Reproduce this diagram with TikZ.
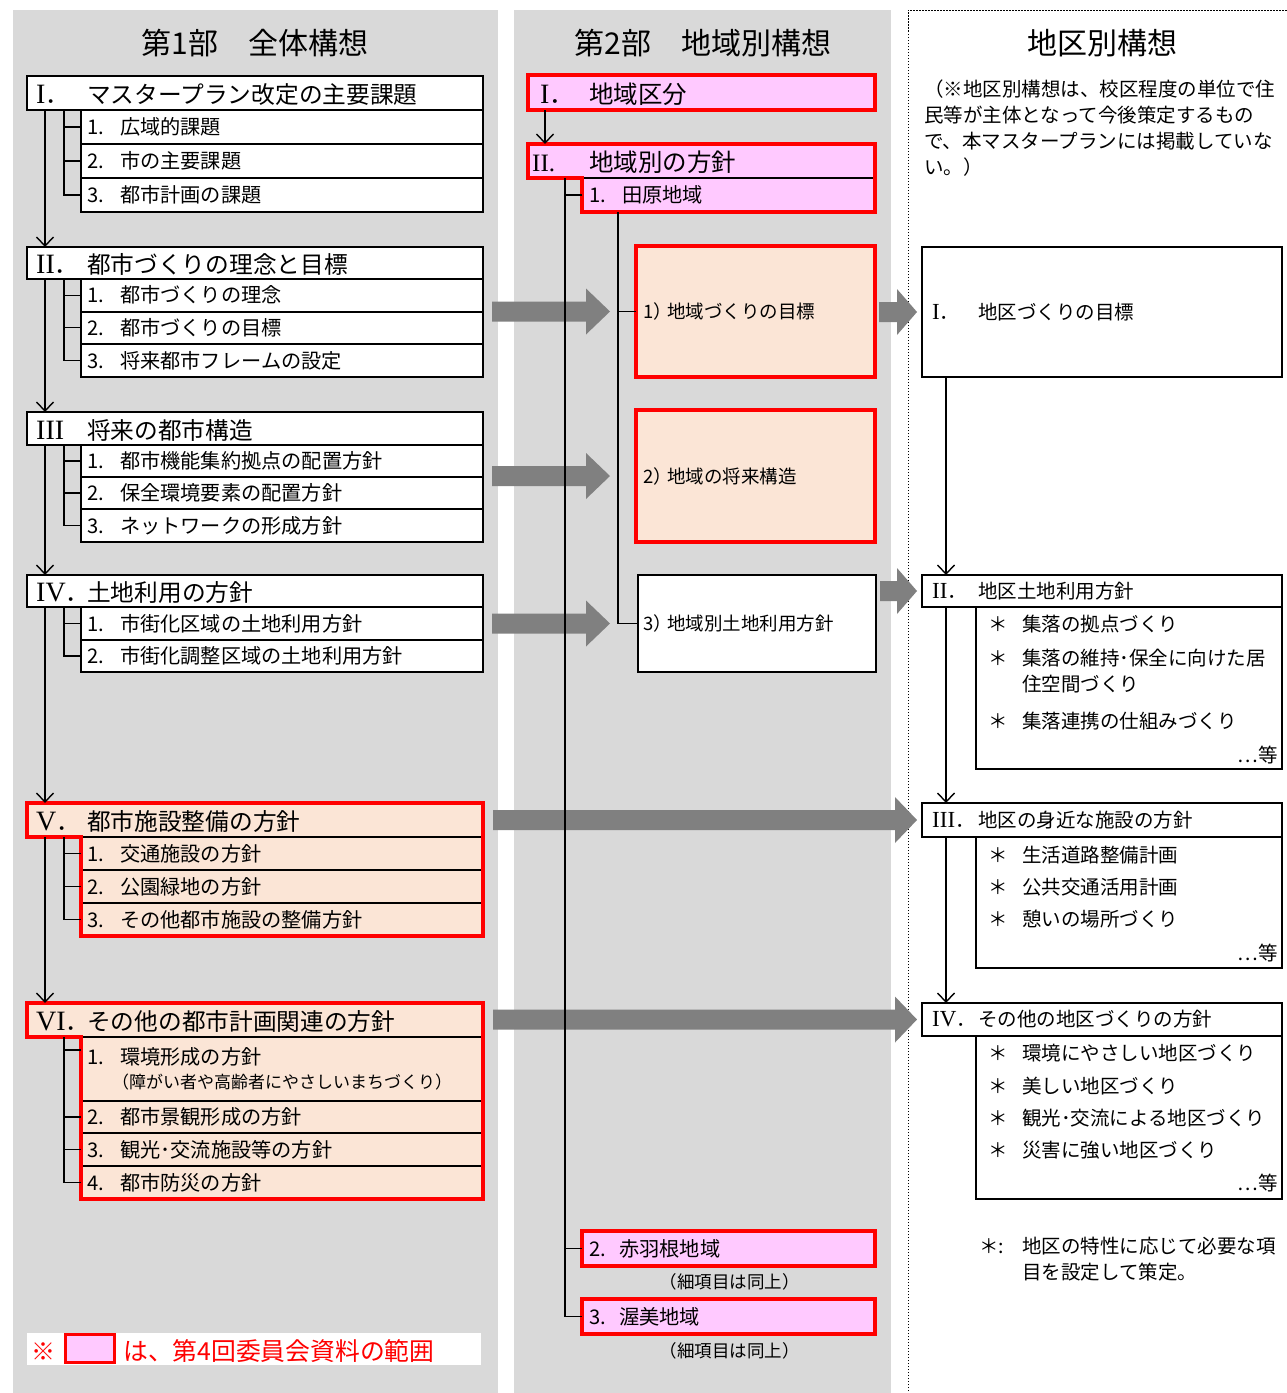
\documentclass[tikz,border=0pt]{standalone}
\usepackage{fontspec}
\setmainfont{Noto Sans CJK JP}
\newfontfamily\romfont{Liberation Serif}
\usetikzlibrary{arrows.meta,calc}
\definecolor{panel}{HTML}{D9D9D9}
\definecolor{peach}{HTML}{FBE5D6}
\definecolor{pinkf}{HTML}{FFC9FF}
\definecolor{fatgray}{HTML}{808080}
\definecolor{redl}{HTML}{FF0000}
\newcommand\rn[2]{{\romfont\fontsize{#1}{#1}\selectfont #2}}
% fat grey block arrow: start point, end point, start shift, end gap, head length
\newcommand\fatarr[5]{\fill[fatgray] let \p1=#1, \p2=#2 in
  (\x1+#3,\y2+10pt) -- (\x2-#4-#5,\y2+10pt) -- (\x2-#4-#5,\y2+23pt) -- (\x2-#4,\y2)
  -- (\x2-#4-#5,\y2-23pt) -- (\x2-#4-#5,\y2-10pt) -- (\x1+#3,\y2-10pt) -- cycle;}
% header row of part 1: name, y, height, fill, number, text
\newcommand\hdrrow[6]{%
  \node[box,fill=#4,minimum width=456pt,minimum height=#3pt] (#1) at (27,#2) {};
  \node[thead] (#1t) at ([xshift=9pt,yshift=-1.5pt]#1.west) {\makebox[51pt][l]{#5}#6};}
% sub row of part 1: name, y, height, fill, number, text
\newcommand\subrow[6]{%
  \node[box,fill=#4,minimum width=402pt,minimum height=#3pt] (#1) at (81,#2) {};
  \node[tsub] (#1t) at ([xshift=6pt]#1.west) {\makebox[33pt][l]{#5}#6};}
\begin{document}
\begin{tikzpicture}[x=1pt,y=-1pt,
  box/.style={draw=black,line width=2pt,fill=white,anchor=north west,inner sep=0pt,outer sep=0pt},
  thead/.style={anchor=west,inner sep=0pt,font=\fontsize{23.7pt}{26pt}\selectfont},
  tsub/.style={anchor=west,inner sep=0pt,font=\fontsize{20.2pt}{22pt}\selectfont},
  tdist/.style={anchor=west,inner sep=0pt,font=\fontsize{19.5pt}{22pt}\selectfont},
  tsmall/.style={anchor=west,inner sep=0pt,font=\fontsize{18.5pt}{22pt}\selectfont},
  ttitle/.style={inner sep=0pt,font=\fontsize{30pt}{32pt}\selectfont},
  ln/.style={draw=black,line width=1.4pt},
  arr/.style={draw=black,line width=1.4pt,-{Straight Barb[length=9pt,width=17pt]}},
  redbox/.style={draw=redl,line width=4pt,line join=miter}]
\useasboundingbox (0,0) rectangle (1287,1393);
\fill[white] (0,0) rectangle (1287,1393);
% panels
\fill[panel] (13,10) rectangle (498,1393);
\fill[panel] (514,10) rectangle (891,1393);
\draw[black,line width=1pt,dash pattern=on 1.5pt off 1.5pt] (908,1400) -- (908,10) -- (1295,10);

% titles
\node[ttitle] (T1) at (255,43) {第1部　全体構想};
\node[ttitle] (T2) at (703,43) {第2部　地域別構想};
\node[ttitle] (T3) at (1102,43) {地区別構想};

% ---------- Part 1 ----------
\hdrrow{Ih}{76}{34}{white}{\rn{28pt}{I}．}{マスタープラン改定の主要課題}
\subrow{I1}{110}{34}{white}{1.}{広域的課題}
\subrow{I2}{144}{34}{white}{2.}{市の主要課題}
\subrow{I3}{178}{34}{white}{3.}{都市計画の課題}

\hdrrow{IIh}{247}{32}{white}{\rn{28pt}{II}．}{都市づくりの理念と目標}
\subrow{II1}{279}{32.5}{white}{1.}{都市づくりの理念}
\subrow{II2}{311.5}{32.5}{white}{2.}{都市づくりの目標}
\subrow{II3}{344}{33}{white}{3.}{将来都市フレームの設定}

\hdrrow{IIIh}{412}{33}{white}{\rn{28pt}{III}}{将来の都市構造}
\subrow{III1}{445}{32}{white}{1.}{都市機能集約拠点の配置方針}
\subrow{III2}{477}{32}{white}{2.}{保全環境要素の配置方針}
\subrow{III3}{509}{33}{white}{3.}{ネットワークの形成方針}

\hdrrow{IVh}{575}{32}{white}{\rn{28pt}{IV}．}{土地利用の方針}
\subrow{IV1}{607}{33}{white}{1.}{市街化区域の土地利用方針}
\subrow{IV2}{640}{32}{white}{2.}{市街化調整区域の土地利用方針}

\hdrrow{Vh}{803}{34}{peach}{\rn{28pt}{V}．}{都市施設整備の方針}
\subrow{V1}{837}{33}{peach}{1.}{交通施設の方針}
\subrow{V2}{870}{33}{peach}{2.}{公園緑地の方針}
\subrow{V3}{903}{33}{peach}{3.}{その他都市施設の整備方針}
\draw[redbox] (Vh.north west) -- (Vh.north east) -- (V3.south east) -- (V3.south west)
  -- (V1.north west) -- (Vh.south west) -- cycle;

\hdrrow{VIh}{1003}{34}{peach}{\rn{28pt}{VI}．}{その他の都市計画関連の方針}
\node[box,fill=peach,minimum width=402pt,minimum height=64pt] (VI1) at (81,1037) {};
\node[tsub] (VI1t) at (87,1057) {\makebox[33pt][l]{1.}環境形成の方針};
\node[anchor=west,inner sep=0pt,font=\fontsize{17pt}{20pt}\selectfont] (VI1u) at (112,1082) {（障がい者や高齢者にやさしいまちづくり）};
\subrow{VI2}{1101}{32}{peach}{2.}{都市景観形成の方針}
\subrow{VI3}{1133}{33}{peach}{3.}{観光･交流施設等の方針}
\subrow{VI4}{1166}{33}{peach}{4.}{都市防災の方針}
\draw[redbox] (VIh.north west) -- (VIh.north east) -- (VI4.south east) -- (VI4.south west)
  -- (VI1.north west) -- (VIh.south west) -- cycle;

% legend
\node[fill=white,anchor=north west,inner sep=0pt,minimum width=454pt,minimum height=32pt] (leg) at (27,1333) {};
\node[inner sep=0pt,text=redl,font=\fontsize{24pt}{26pt}\selectfont] (legm) at (43,1352) {※};
\node[box,fill=pinkf,draw=redl,line width=3pt,minimum width=49pt,minimum height=28pt] (legsq) at (65,1334) {};
\node[anchor=west,inner sep=0pt,text=redl,font=\fontsize{24.8pt}{26pt}\selectfont] (legt) at (123,1351) {は、第4回委員会資料の範囲};

% ---------- Part 2 ----------
\node[box,fill=pinkf,draw=redl,line width=4pt,minimum width=347pt,minimum height=35pt] (cI) at (528,75) {};
\node[thead,font=\fontsize{24.5pt}{26pt}\selectfont] (cIt) at ([xshift=12pt,yshift=-1.5pt]cI.west) {\makebox[49pt][l]{\rn{28pt}{I}．}地域区分};
\node[box,fill=pinkf,draw=none,minimum width=347pt,minimum height=34pt] (cII) at (528,144) {};
\node[box,fill=pinkf,minimum width=293pt,minimum height=34pt] (cII1) at (582,178) {};
\node[thead,font=\fontsize{24.5pt}{26pt}\selectfont] (cIIt) at ([xshift=4pt,yshift=-1.5pt]cII.west) {\makebox[57pt][l]{\rn{25pt}{II.}}地域別の方針};
\node[tsub] (cII1t) at ([xshift=7pt]cII1.west) {\makebox[33pt][l]{1.}田原地域};
\draw[redbox] (cII.north west) -- (cII.north east) -- (cII1.south east) -- (cII1.south west)
  -- (cII1.north west) -- (cII.south west) -- cycle;

\node[box,fill=peach,draw=redl,line width=4pt,minimum width=239pt,minimum height=131pt] (g1) at (636,246) {};
\node[tsmall] (g1t) at ([xshift=7pt]g1.west) {\makebox[24pt][l]{1）}地域づくりの目標};
\node[box,fill=peach,draw=redl,line width=4pt,minimum width=239pt,minimum height=132pt] (g2) at (636,410) {};
\node[tsmall] (g2t) at ([xshift=7pt]g2.west) {\makebox[24pt][l]{2）}地域の将来構造};
\node[box,fill=white,minimum width=238pt,minimum height=97pt] (g3) at (638,575) {};
\node[tsmall] (g3t) at ([xshift=5pt]g3.west) {\makebox[24pt][l]{3）}地域別土地利用方針};

\node[box,fill=pinkf,draw=redl,line width=4pt,minimum width=293pt,minimum height=35pt] (c2) at (582,1231) {};
\node[tsub] (c2t) at ([xshift=7pt]c2.west) {\makebox[30pt][l]{2.}赤羽根地域};
\node[inner sep=0pt,font=\fontsize{17.5pt}{18pt}\selectfont] (c2n) at ([yshift=-16pt,xshift=1pt]c2.south) {（細項目は同上）};
\node[box,fill=pinkf,draw=redl,line width=4pt,minimum width=293pt,minimum height=35pt] (c3) at (582,1299) {};
\node[tsub] (c3t) at ([xshift=7pt]c3.west) {\makebox[30pt][l]{3.}渥美地域};
\node[inner sep=0pt,font=\fontsize{17.5pt}{18pt}\selectfont] (c3n) at ([yshift=-17pt,xshift=1pt]c3.south) {（細項目は同上）};

% ---------- District column ----------
\node[anchor=north west,align=left,inner sep=0pt,font=\fontsize{19.5pt}{26pt}\selectfont] (note) at (924,80)
  {（※地区別構想は、校区程度の単位で住\\民等が主体となって今後策定するもの\\で、本マスタープランには掲載していな\\い。）};

\node[box,minimum width=360pt,minimum height=130pt] (dI) at (922,247) {};
\node[tdist] (dIt) at ([xshift=10pt]dI.west) {\makebox[46pt][l]{\rn{23pt}{I}．}地区づくりの目標};

\node[box,minimum width=306pt,minimum height=162pt] (dIIb) at (976,607) {};
\node[box,minimum width=360pt,minimum height=32pt] (dII) at (922,575) {};
\node[tdist] (dIIt) at ([xshift=10pt]dII.west) {\makebox[46pt][l]{\rn{23pt}{II}．}地区土地利用方針};
\node[tdist] (dIIa) at (988,624) {\makebox[34pt][l]{＊}集落の拠点づくり};
\node[tdist] (dIIc) at (988,658) {\makebox[34pt][l]{＊}集落の維持･保全に向けた居};
\node[tdist] (dIId) at (1022,684) {住空間づくり};
\node[tdist] (dIIe) at (988,721) {\makebox[34pt][l]{＊}集落連携の仕組みづくり};
\node[tdist,anchor=east] (dIIf) at (1278,755) {…等};

\node[box,minimum width=306pt,minimum height=131pt] (dIIIb) at (976,837) {};
\node[box,minimum width=360pt,minimum height=34pt] (dIII) at (922,803) {};
\node[tdist] (dIIIt) at ([xshift=10pt]dIII.west) {\makebox[46pt][l]{\rn{23pt}{III}．}地区の身近な施設の方針};
\node[tdist] (dIIIa) at (988,855) {\makebox[34pt][l]{＊}生活道路整備計画};
\node[tdist] (dIIIc) at (988,887) {\makebox[34pt][l]{＊}公共交通活用計画};
\node[tdist] (dIIId) at (988,919) {\makebox[34pt][l]{＊}憩いの場所づくり};
\node[tdist,anchor=east] (dIIIf) at (1278,953) {…等};

\node[box,minimum width=306pt,minimum height=163pt] (dIVb) at (976,1036) {};
\node[box,minimum width=360pt,minimum height=33pt] (dIV) at (922,1003) {};
\node[tdist] (dIVt) at ([xshift=10pt]dIV.west) {\makebox[46pt][l]{\rn{23pt}{IV}．}その他の地区づくりの方針};
\node[tdist] (dIVa) at (988,1053) {\makebox[34pt][l]{＊}環境にやさしい地区づくり};
\node[tdist] (dIVc) at (988,1086) {\makebox[34pt][l]{＊}美しい地区づくり};
\node[tdist] (dIVd) at (988,1118) {\makebox[34pt][l]{＊}観光･交流による地区づくり};
\node[tdist] (dIVe) at (988,1150) {\makebox[34pt][l]{＊}災害に強い地区づくり};
\node[tdist,anchor=east] (dIVf) at (1278,1183) {…等};

\node[tdist] (fn1) at (979,1246) {\makebox[43pt][l]{＊:}地区の特性に応じて必要な項};
\node[tdist] (fn2) at (1022,1272) {目を設定して策定。};

% ---------- fat arrows ----------
\coordinate (fa1) at (IIh.east |- g1.west);
\coordinate (fa2) at (IIIh.east |- g2.west);
\coordinate (fa3) at (IVh.east |- g3.west);
\coordinate (fa5) at (g3.east |- dII.west);
\fatarr{(fa1)}{(g1.west)}{9pt}{26pt}{24pt}
\fatarr{(fa2)}{(g2.west)}{9pt}{26pt}{24pt}
\fatarr{(fa3)}{(g3.west)}{9pt}{28pt}{24pt}
\fatarr{(g1.east)}{(dI.west)}{4pt}{5pt}{20pt}
\fatarr{(fa5)}{(dII.west)}{4pt}{5pt}{20pt}
\fatarr{(Vh.east)}{(dIII.west)}{10pt}{5pt}{22pt}
\fatarr{(VIh.east)}{(dIV.west)}{10pt}{5pt}{22pt}

% ---------- connectors, part 1 ----------
\draw[arr] ([xshift=18pt]Ih.south west) -- ([xshift=18pt]IIh.north west);
\draw[arr] ([xshift=18pt]IIh.south west) -- ([xshift=18pt]IIIh.north west);
\draw[arr] ([xshift=18pt]IIIh.south west) -- ([xshift=18pt]IVh.north west);
\draw[arr] ([xshift=18pt]IVh.south west) -- ([xshift=18pt]Vh.north west);
\draw[arr] ([xshift=18pt]Vh.south west) -- ([xshift=18pt]VIh.north west);

\coordinate (tI) at ([xshift=37pt]Ih.south west);
\draw[ln] (tI) |- (I3.west);
\draw[ln] (tI |- I1.west) -- (I1.west);
\draw[ln] (tI |- I2.west) -- (I2.west);
\coordinate (tII) at ([xshift=37pt]IIh.south west);
\draw[ln] (tII) |- (II3.west);
\draw[ln] (tII |- II1.west) -- (II1.west);
\draw[ln] (tII |- II2.west) -- (II2.west);
\coordinate (tIII) at ([xshift=37pt]IIIh.south west);
\draw[ln] (tIII) |- (III3.west);
\draw[ln] (tIII |- III1.west) -- (III1.west);
\draw[ln] (tIII |- III2.west) -- (III2.west);
\coordinate (tIV) at ([xshift=37pt]IVh.south west);
\draw[ln] (tIV) |- (IV2.west);
\draw[ln] (tIV |- IV1.west) -- (IV1.west);
\coordinate (tV) at ([xshift=37pt]Vh.south west);
\draw[ln] (tV) |- (V3.west);
\draw[ln] (tV |- V1.west) -- (V1.west);
\draw[ln] (tV |- V2.west) -- (V2.west);
\coordinate (tVI) at ([xshift=37pt]VIh.south west);
\coordinate (tVIa) at ([yshift=-13pt]VI1.north west);
\draw[ln] (tVI) |- (VI4.west);
\draw[ln] (tVI |- tVIa) -- (tVIa);
\draw[ln] (tVI |- VI2.west) -- (VI2.west);
\draw[ln] (tVI |- VI3.west) -- (VI3.west);

% ---------- connectors, part 2 ----------
\draw[arr] ([xshift=17pt]cI.south west) -- ([xshift=17pt]cII.north west);
\coordinate (trk) at ([xshift=37pt]cII.south west);
\draw[ln] (trk) |- (c3.west);
\draw[ln] (trk |- cII1.west) -- (cII1.west);
\draw[ln] (trk |- c2.west) -- (c2.west);
\coordinate (trk2) at ([xshift=36pt]cII1.south west);
\draw[ln] (trk2) |- (g3.west);
\draw[ln] (trk2 |- g1.west) -- (g1.west);

% ---------- connectors, district column ----------
\coordinate (td) at ([xshift=24pt]dI.south west);
\draw[arr] (td) -- (td |- dII.north);
\draw[arr] (td |- dII.south) -- (td |- dIII.north);
\draw[arr] (td |- dIII.south) -- (td |- dIV.north);
\end{tikzpicture}
\end{document}
